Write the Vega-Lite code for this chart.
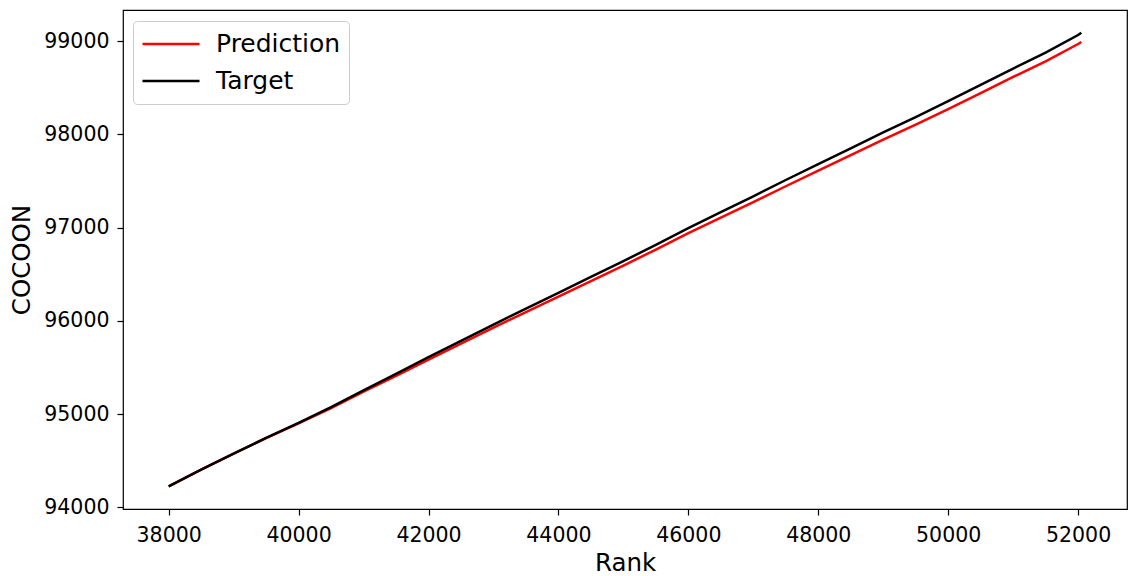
{
  "$schema": "https://vega.github.io/schema/vega-lite/v6.json",
  "width": 1004,
  "height": 499,
  "autosize": "none",
  "padding": {"left": 123, "top": 10, "right": 1, "bottom": 67},
  "background": "white",
  "config": {
    "font": "DejaVu Sans",
    "view": {"stroke": "black", "strokeWidth": 1.2},
    "axis": {
      "grid": false,
      "domain": false,
      "tickColor": "black",
      "tickWidth": 1.2,
      "tickSize": 6,
      "labelFont": "DejaVu Sans",
      "labelFontSize": 20.5,
      "labelColor": "black",
      "titleFont": "DejaVu Sans",
      "titleFontSize": 24.5,
      "titleFontWeight": "normal",
      "titleColor": "black"
    },
    "legend": {
      "labelFont": "DejaVu Sans",
      "labelFontSize": 25,
      "labelColor": "black"
    }
  },
  "data": {
    "values": [
      {"rank": 38000, "value": 94225, "series": "Prediction"},
      {"rank": 38500, "value": 94405, "series": "Prediction"},
      {"rank": 39000, "value": 94575, "series": "Prediction"},
      {"rank": 39500, "value": 94743, "series": "Prediction"},
      {"rank": 40000, "value": 94900, "series": "Prediction"},
      {"rank": 40500, "value": 95065, "series": "Prediction"},
      {"rank": 41000, "value": 95240, "series": "Prediction"},
      {"rank": 41500, "value": 95410, "series": "Prediction"},
      {"rank": 42000, "value": 95585, "series": "Prediction"},
      {"rank": 42500, "value": 95756, "series": "Prediction"},
      {"rank": 43000, "value": 95927, "series": "Prediction"},
      {"rank": 43500, "value": 96094, "series": "Prediction"},
      {"rank": 44000, "value": 96260, "series": "Prediction"},
      {"rank": 44500, "value": 96426, "series": "Prediction"},
      {"rank": 45000, "value": 96593, "series": "Prediction"},
      {"rank": 45500, "value": 96764, "series": "Prediction"},
      {"rank": 46000, "value": 96940, "series": "Prediction"},
      {"rank": 46500, "value": 97106, "series": "Prediction"},
      {"rank": 47000, "value": 97272, "series": "Prediction"},
      {"rank": 47500, "value": 97443, "series": "Prediction"},
      {"rank": 48000, "value": 97610, "series": "Prediction"},
      {"rank": 48500, "value": 97776, "series": "Prediction"},
      {"rank": 49000, "value": 97942, "series": "Prediction"},
      {"rank": 49500, "value": 98104, "series": "Prediction"},
      {"rank": 50000, "value": 98270, "series": "Prediction"},
      {"rank": 50500, "value": 98442, "series": "Prediction"},
      {"rank": 51000, "value": 98615, "series": "Prediction"},
      {"rank": 51500, "value": 98782, "series": "Prediction"},
      {"rank": 52000, "value": 98968, "series": "Prediction"},
      {"rank": 52050, "value": 98990, "series": "Prediction"},
      {"rank": 38000, "value": 94225, "series": "Target"},
      {"rank": 38500, "value": 94405, "series": "Target"},
      {"rank": 39000, "value": 94575, "series": "Target"},
      {"rank": 39500, "value": 94745, "series": "Target"},
      {"rank": 40000, "value": 94905, "series": "Target"},
      {"rank": 40500, "value": 95075, "series": "Target"},
      {"rank": 41000, "value": 95255, "series": "Target"},
      {"rank": 41500, "value": 95430, "series": "Target"},
      {"rank": 42000, "value": 95610, "series": "Target"},
      {"rank": 42500, "value": 95785, "series": "Target"},
      {"rank": 43000, "value": 95960, "series": "Target"},
      {"rank": 43500, "value": 96130, "series": "Target"},
      {"rank": 44000, "value": 96300, "series": "Target"},
      {"rank": 44500, "value": 96470, "series": "Target"},
      {"rank": 45000, "value": 96640, "series": "Target"},
      {"rank": 45500, "value": 96815, "series": "Target"},
      {"rank": 46000, "value": 96995, "series": "Target"},
      {"rank": 46500, "value": 97165, "series": "Target"},
      {"rank": 47000, "value": 97335, "series": "Target"},
      {"rank": 47500, "value": 97510, "series": "Target"},
      {"rank": 48000, "value": 97680, "series": "Target"},
      {"rank": 48500, "value": 97850, "series": "Target"},
      {"rank": 49000, "value": 98020, "series": "Target"},
      {"rank": 49500, "value": 98185, "series": "Target"},
      {"rank": 50000, "value": 98355, "series": "Target"},
      {"rank": 50500, "value": 98530, "series": "Target"},
      {"rank": 51000, "value": 98705, "series": "Target"},
      {"rank": 51500, "value": 98875, "series": "Target"},
      {"rank": 52000, "value": 99065, "series": "Target"},
      {"rank": 52050, "value": 99090, "series": "Target"}
    ]
  },
  "mark": {"type": "line", "strokeWidth": 2.5, "clip": true},
  "encoding": {
    "x": {
      "field": "rank",
      "type": "quantitative",
      "title": "Rank",
      "scale": {"domain": [37297, 52753], "nice": false, "zero": false},
      "axis": {
        "values": [38000, 40000, 42000, 44000, 46000, 48000, 50000, 52000],
        "format": "d",
        "labelPadding": 10,
        "titlePadding": 6
      }
    },
    "y": {
      "field": "value",
      "type": "quantitative",
      "title": "COCOON",
      "scale": {"domain": [93982, 99333], "nice": false, "zero": false},
      "axis": {
        "values": [94000, 95000, 96000, 97000, 98000, 99000],
        "format": "d",
        "labelPadding": 8,
        "titlePadding": 9
      }
    },
    "color": {
      "field": "series",
      "type": "nominal",
      "scale": {"domain": ["Prediction", "Target"], "range": ["#ff0000", "#000000"]},
      "legend": {
        "title": null,
        "orient": "none",
        "legendX": 10,
        "legendY": 11,
        "symbolType": "stroke",
        "symbolSize": 3249,
        "symbolStrokeWidth": 2.5,
        "labelOffset": 15,
        "clipHeight": 30,
        "rowPadding": 7,
        "padding": 8,
        "fillColor": "rgba(255,255,255,0.8)",
        "strokeColor": "#cccccc",
        "cornerRadius": 4
      }
    }
  }
}
